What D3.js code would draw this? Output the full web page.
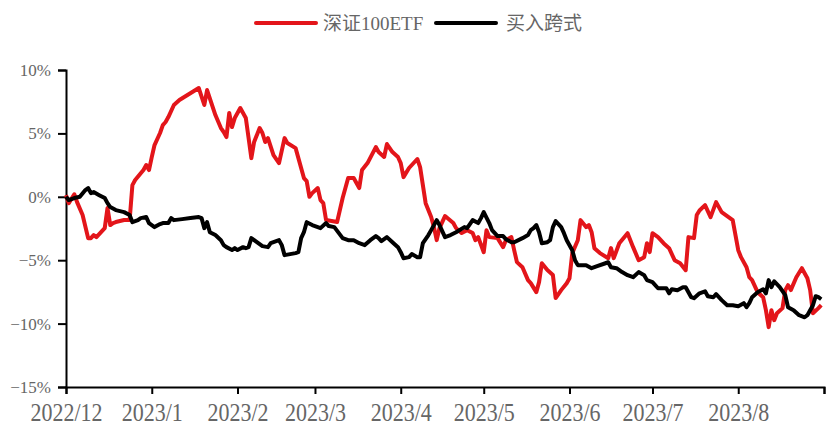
<!DOCTYPE html>
<html><head><meta charset="utf-8">
<script src="https://cdn.jsdelivr.net/npm/d3@7/dist/d3.min.js"></script>
<style>
html,body{margin:0;padding:0;background:#fff;}
svg{display:block;}
</style></head>
<body>
<svg id="chart" width="834" height="432"></svg>
<script>
const seriesNames = ["深证100ETF", "买入跨式"];
const seriesColors = ["#e3151a", "#000000"];

const redDates = ["2022-12-01","2022-12-02","2022-12-04","2022-12-05","2022-12-07","2022-12-09","2022-12-10","2022-12-11","2022-12-12","2022-12-15","2022-12-16","2022-12-17","2022-12-18","2022-12-19","2022-12-22","2022-12-24","2022-12-25","2022-12-26","2022-12-29","2022-12-30","2022-12-31",
"2023-01-01","2023-01-02","2023-01-04","2023-01-05","2023-01-06","2023-01-07","2023-01-09","2023-01-11","2023-01-18","2023-01-20","2023-01-21","2023-01-24","2023-01-26","2023-01-27","2023-01-28","2023-01-29","2023-01-30","2023-01-31",
"2023-02-02","2023-02-04","2023-02-05","2023-02-06","2023-02-07","2023-02-09","2023-02-10","2023-02-11","2023-02-12","2023-02-14","2023-02-16","2023-02-18","2023-02-19","2023-02-22","2023-02-25","2023-02-26","2023-02-27","2023-02-28",
"2023-03-02","2023-03-03","2023-03-04","2023-03-05","2023-03-09","2023-03-11","2023-03-13","2023-03-15","2023-03-17","2023-03-18","2023-03-20","2023-03-23","2023-03-24","2023-03-26","2023-03-27","2023-03-29","2023-03-31",
"2023-04-01","2023-04-02","2023-04-04","2023-04-07","2023-04-08","2023-04-10","2023-04-12","2023-04-13","2023-04-14","2023-04-15","2023-04-17","2023-04-20","2023-04-21","2023-04-23","2023-04-25","2023-04-27","2023-04-28","2023-04-29",
"2023-05-01","2023-05-02","2023-05-03","2023-05-06","2023-05-08","2023-05-09","2023-05-11","2023-05-12","2023-05-13","2023-05-15","2023-05-17","2023-05-18","2023-05-20","2023-05-21","2023-05-22","2023-05-24","2023-05-26","2023-05-27","2023-05-29","2023-05-31",
"2023-06-01","2023-06-02","2023-06-04","2023-06-05","2023-06-07","2023-06-08","2023-06-09","2023-06-10","2023-06-12","2023-06-15","2023-06-16","2023-06-17","2023-06-19","2023-06-22","2023-06-24","2023-06-26","2023-06-28","2023-06-29","2023-06-30",
"2023-07-01","2023-07-03","2023-07-05","2023-07-07","2023-07-09","2023-07-11","2023-07-13","2023-07-14","2023-07-16","2023-07-17","2023-07-18","2023-07-20","2023-07-22","2023-07-24","2023-07-26","2023-07-29","2023-07-30",
"2023-08-01","2023-08-02","2023-08-04","2023-08-05","2023-08-06","2023-08-08","2023-08-10","2023-08-11","2023-08-12","2023-08-13","2023-08-14","2023-08-15","2023-08-17","2023-08-18","2023-08-19","2023-08-20","2023-08-22","2023-08-24","2023-08-26","2023-08-27","2023-08-28","2023-08-30","2023-08-31"];
const redValues = [0.13,-0.5,0.2,-0.42,-1.44,-3.26,-3.26,-3.02,-3.18,-2.47,-0.89,-2.23,-2.07,-1.99,-1.83,-1.83,0.92,1.32,2.11,2.5,2.11,
3.13,4.08,5.03,5.66,5.9,6.29,7.24,7.63,8.58,7.24,8.42,6.45,5.42,5.11,4.71,6.61,5.5,6.21,
7.0,6.21,4.63,3.05,4.32,5.42,5.03,4.32,4.63,3.29,2.66,4.63,4.24,3.84,1.48,1.24,0,0.29,
0.69,-0.26,-0.5,-1.83,-1.99,-0.1,1.48,1.48,0.69,2.11,2.66,3.92,3.53,3.14,4.16,3.53,3.14,
2.66,1.55,2.27,2.98,2.34,-0.5,-1.6,-2.39,-3.42,-2.47,-1.52,-2.07,-2.47,-2.86,-2.63,-2.86,-3.42,-3.18,
-4.37,-2.63,-3.18,-3.26,-3.97,-3.42,-3.18,-4.2,-5.15,-5.55,-6.57,-6.81,-7.52,-6.73,-5.24,-5.78,-6.17,-7.99,-7.36,-6.81,
-6.42,-4.44,-3.42,-1.84,-2.39,-2.23,-2.79,-4.05,-4.44,-4.84,-4.05,-4.84,-3.66,-2.87,-3.97,-5.0,-4.76,-3.66,-4.36,
-2.87,-3.18,-3.66,-4.05,-5.0,-5.24,-5.79,-3.18,-3.26,-1.44,-1.08,-0.66,-1.6,-0.42,-1.21,-1.68,-1.84,
-4.21,-4.76,-5.55,-6.34,-6.57,-7.52,-7.92,-8.94,-10.28,-8.94,-9.73,-9.18,-8.78,-7.36,-6.97,-7.36,-6.34,-5.63,-6.42,-7.36,-9.18,-8.78,-8.55];

const blackDates = ["2022-12-01","2022-12-02","2022-12-04","2022-12-06","2022-12-08","2022-12-09","2022-12-10","2022-12-11","2022-12-13","2022-12-15","2022-12-16","2022-12-17","2022-12-19","2022-12-22","2022-12-24","2022-12-25","2022-12-27","2022-12-28","2022-12-30","2022-12-31",
"2023-01-02","2023-01-04","2023-01-05","2023-01-07","2023-01-08","2023-01-09","2023-01-12","2023-01-15","2023-01-18","2023-01-19","2023-01-20","2023-01-21","2023-01-22","2023-01-24","2023-01-26","2023-01-27","2023-01-28","2023-01-30","2023-01-31",
"2023-02-01","2023-02-03","2023-02-04","2023-02-05","2023-02-06","2023-02-08","2023-02-10","2023-02-12","2023-02-13","2023-02-14","2023-02-16","2023-02-17","2023-02-18","2023-02-20","2023-02-22","2023-02-23","2023-02-24","2023-02-25","2023-02-26","2023-02-28",
"2023-03-02","2023-03-03","2023-03-05","2023-03-06","2023-03-08","2023-03-11","2023-03-13","2023-03-15","2023-03-17","2023-03-19","2023-03-21","2023-03-23","2023-03-24","2023-03-25","2023-03-27","2023-03-29","2023-03-31",
"2023-04-01","2023-04-02","2023-04-04","2023-04-05","2023-04-07","2023-04-08","2023-04-09","2023-04-11","2023-04-12","2023-04-14","2023-04-15","2023-04-17","2023-04-19","2023-04-21","2023-04-24","2023-04-25","2023-04-27","2023-04-29","2023-04-30",
"2023-05-01","2023-05-03","2023-05-04","2023-05-06","2023-05-08","2023-05-09","2023-05-11","2023-05-12","2023-05-15","2023-05-17","2023-05-18","2023-05-19","2023-05-20","2023-05-21","2023-05-22","2023-05-24","2023-05-25","2023-05-26","2023-05-27","2023-05-29","2023-05-30","2023-05-31",
"2023-06-02","2023-06-03","2023-06-04","2023-06-07","2023-06-09","2023-06-11","2023-06-14","2023-06-15","2023-06-16","2023-06-18","2023-06-20","2023-06-22","2023-06-24","2023-06-26","2023-06-28","2023-06-29",
"2023-07-01","2023-07-03","2023-07-06","2023-07-07","2023-07-08","2023-07-10","2023-07-12","2023-07-13","2023-07-15","2023-07-16","2023-07-18","2023-07-20","2023-07-21","2023-07-23","2023-07-24","2023-07-26","2023-07-28","2023-07-30",
"2023-08-01","2023-08-03","2023-08-04","2023-08-05","2023-08-06","2023-08-08","2023-08-10","2023-08-11","2023-08-12","2023-08-13","2023-08-14","2023-08-16","2023-08-18","2023-08-19","2023-08-21","2023-08-23","2023-08-25","2023-08-26","2023-08-28","2023-08-29","2023-08-30","2023-08-31"];
const blackValues = [0,-0.26,-0.1,0,0.53,0.69,0.29,0.37,0.13,-0.1,-0.5,-0.81,-1.05,-1.21,-1.44,-2.0,-1.84,-1.68,-1.6,-2.07,
-2.39,-2.15,-2.07,-2.07,-1.68,-1.84,-1.76,-1.68,-1.6,-1.68,-2.47,-2.0,-2.79,-3.02,-3.42,-3.81,-3.97,-4.2,-4.05,
-4.2,-3.97,-4.05,-3.97,-3.26,-3.58,-3.89,-3.97,-3.66,-3.58,-3.42,-3.81,-4.6,-4.52,-4.44,-4.37,-3.26,-2.79,-2.0,-2.23,
-2.39,-2.47,-2.07,-2.31,-2.39,-3.26,-3.42,-3.42,-3.66,-3.81,-3.42,-3.1,-3.26,-3.5,-3.18,-3.58,-3.97,
-4.37,-4.84,-4.76,-4.52,-4.76,-4.76,-3.66,-3.02,-2.63,-1.84,-2.23,-3.18,-3.02,-2.79,-2.39,-2.47,-1.84,-2.07,-1.68,
-1.21,-2.07,-2.63,-3.1,-3.1,-3.34,-3.58,-3.58,-3.26,-3.02,-2.63,-2.47,-2.23,-2.79,-3.66,-3.58,-3.42,-2.39,-1.92,-2.39,-2.87,-3.42,
-4.21,-5.0,-5.39,-5.39,-5.63,-5.47,-5.24,-5.16,-5.55,-5.63,-5.94,-6.18,-6.34,-5.94,-6.18,-6.57,
-6.73,-7.21,-7.21,-7.61,-7.29,-7.37,-7.13,-7.13,-7.92,-8.0,-7.61,-7.45,-7.84,-7.92,-7.68,-8.15,-8.55,-8.55,
-8.63,-8.39,-8.71,-8.39,-7.92,-7.53,-7.29,-7.61,-6.57,-7.13,-6.66,-7.13,-7.76,-8.71,-8.94,-9.34,-9.5,-9.34,-8.55,-7.84,-7.92,-8.08];

const yTicks = [-15, -10, -5, 0, 5, 10];
const xTickDates = ["2022-12-01","2023-01-01","2023-02-01","2023-03-01","2023-04-01","2023-05-01","2023-06-01","2023-07-01","2023-08-01","2023-09-01"];
const xTickLabels = ["2022/12","2023/1","2023/2","2023/3","2023/4","2023/5","2023/6","2023/7","2023/8",""];

const parse = d3.timeParse("%Y-%m-%d");
const svg = d3.select("#chart");
const plotLeft = 66, plotRight = 824, plotTop = 70, plotBottom = 387;

const x = d3.scaleTime().domain([parse("2022-12-01"), parse("2023-09-01")]).range([plotLeft, plotRight]);
const y = d3.scaleLinear().domain([-15, 10]).range([plotBottom, plotTop]);

const textColor = "#666666";
const fontFam = "'Liberation Serif', 'Times New Roman', 'Noto Sans CJK SC', serif";

// Y axis
const yAxis = svg.append("g").attr("transform", `translate(${plotLeft},0)`)
  .call(d3.axisLeft(y).tickValues(yTicks).tickSize(8).tickPadding(7).tickFormat(d => d3.format("d")(d) + "%"));
yAxis.select(".domain").attr("stroke", "#000").attr("stroke-width", 2);
yAxis.selectAll(".tick line").attr("stroke", "#000").attr("stroke-width", 2);
yAxis.selectAll(".tick text").attr("fill", textColor).attr("font-family", fontFam).attr("font-size", 17);

// X axis
const xAxis = svg.append("g").attr("transform", `translate(0,${plotBottom})`)
  .call(d3.axisBottom(x).tickValues(xTickDates.map(parse)).tickSize(7).tickPadding(6)
    .tickFormat((d, i) => xTickLabels[i]));
xAxis.select(".domain").attr("stroke", "#000").attr("stroke-width", 2);
xAxis.selectAll(".tick line").attr("stroke", "#000").attr("stroke-width", 2);
xAxis.selectAll(".tick text").attr("fill", textColor).attr("font-family", fontFam).attr("font-size", 22)
  .attr("transform", "scale(1,1.18)");

// Lines
const line = d3.line().x(d => x(d.date)).y(d => y(d.value));
const redData = redDates.map((d, i) => ({date: parse(d), value: redValues[i]}));
const blackData = blackDates.map((d, i) => ({date: parse(d), value: blackValues[i]}));

svg.append("path").datum(redData).attr("d", line)
  .attr("fill", "none").attr("stroke", seriesColors[0]).attr("stroke-width", 4).attr("stroke-linejoin", "round");
svg.append("path").datum(blackData).attr("d", line)
  .attr("fill", "none").attr("stroke", seriesColors[1]).attr("stroke-width", 4).attr("stroke-linejoin", "round");

// Legend
const legendItems = [{x: 256, tx: 323}, {x: 436, tx: 506}];
seriesNames.forEach((name, i) => {
  const g = svg.append("g");
  g.append("line").attr("x1", legendItems[i].x).attr("x2", legendItems[i].x + 60)
    .attr("y1", 23).attr("y2", 23).attr("stroke", seriesColors[i]).attr("stroke-width", 4).attr("stroke-linecap", "round");
  g.append("text").attr("x", legendItems[i].tx).attr("y", 23).attr("dy", "0.35em")
    .attr("fill", textColor).attr("font-family", fontFam).attr("font-size", 19).text(name);
});
</script>
</body></html>
